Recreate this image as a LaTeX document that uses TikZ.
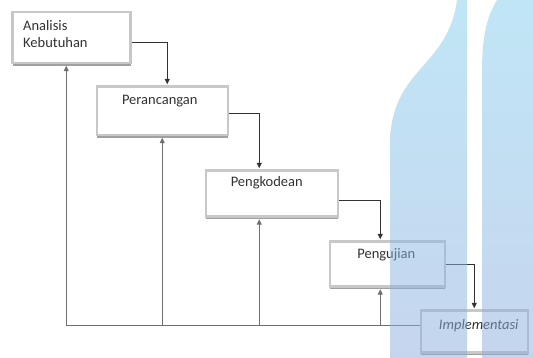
\documentclass[tikz,border=0pt]{standalone}
\usepackage{fontspec}
\setmainfont{Carlito}
\usepackage{xcolor}
\usepackage{tikz}
\usetikzlibrary{arrows.meta,positioning,shadows}

\definecolor{framegray}{RGB}{200,200,200}
\definecolor{shadegray}{RGB}{160,160,160}
\definecolor{inkgray}{RGB}{50,50,50}
\definecolor{linegray}{RGB}{110,110,110}
\definecolor{marktop}{RGB}{130,205,238}
\definecolor{markbottom}{RGB}{140,172,220}

\begin{document}
\begin{tikzpicture}[
    x=1pt, y=1pt,
    phase/.style={rectangle, draw=framegray, line width=2.5pt, fill=white, anchor=north west,
        drop shadow={shadow xshift=0.5pt, shadow yshift=-2.5pt, fill=shadegray, opacity=1}},
    caption/.style={inner sep=0pt, anchor=north, text=inkgray, font=\fontsize{14.5}{17}\selectfont},
    arrow/.style={-{Triangle[length=5.5pt,width=5pt]}, draw=inkgray, line width=0.8pt, shorten >=1.2pt},
    back/.style={-{Triangle[length=5.5pt,width=5pt]}, draw=linegray, line width=1pt, shorten >=1.2pt}
]
    \useasboundingbox (0,0) rectangle (533,358);

    \node (req) [phase, minimum width=118pt, minimum height=51pt] at (11,347) {};
    \node (des) [phase, minimum width=131pt, minimum height=48.5pt] at (95.5,272.5) {};
    \node (cod) [phase, minimum width=132pt, minimum height=46pt] at (204.5,188.5) {};
    \node (tst) [phase, minimum width=115pt, minimum height=45pt] at (328.5,117.5) {};
    \node (imp) [phase, minimum width=107pt, minimum height=42pt] at (419.5,48.5) {};

    \node (req-txt) [caption, anchor=north west, align=left, below right=9.5pt and 12pt of req.north west] {Analisis\\Kebutuhan};
    \node (des-txt) [caption, below=10pt of des.north, xshift=-2.5pt] {Perancangan};
    \node (cod-txt) [caption, below=7pt of cod.north, xshift=-5pt] {Pengkodean};
    \node (tst-txt) [caption, below=7.5pt of tst.north, xshift=-1pt] {Pengujian};
    \node (imp-txt) [caption, below=10pt of imp.north, xshift=4.5pt] {\itshape Implementasi};

    \coordinate (fb) at (65,32);

    % forward flow
    \draw [arrow] ([yshift=-4.5pt]req.east) -| ([xshift=5pt]des.north);
    \draw [arrow] ([yshift=-2pt]des.east) -| ([xshift=-12.5pt]cod.north);
    \draw [arrow] ([yshift=-6.5pt]cod.east) -| ([xshift=-7pt]tst.north);
    \draw [arrow] (tst.east) -| (imp.north);

    % feedback to every phase
    \draw [back] (imp.west |- fb) -| ([xshift=-5pt]req.south);
    \draw [back] (des.south |- fb) -- (des.south);
    \draw [back] ([xshift=-12.5pt]cod.south |- fb) -- ([xshift=-12.5pt]cod.south);
    \draw [back] ([xshift=-7pt]tst.south |- fb) -- ([xshift=-7pt]tst.south);

    % watermark
    \shade [top color=marktop, bottom color=markbottom, fill opacity=0.5]
        (457,358) .. controls (448,290) and (391,290) .. (390,215) -- (390,0) -- (467,0) -- (467,358) -- cycle;
    \shade [top color=marktop, bottom color=markbottom, fill opacity=0.5]
        (497,358) .. controls (486,340) and (482,320) .. (482,285) -- (482,0) -- (533,0) -- (533,358) -- cycle;
\end{tikzpicture}
\end{document}
